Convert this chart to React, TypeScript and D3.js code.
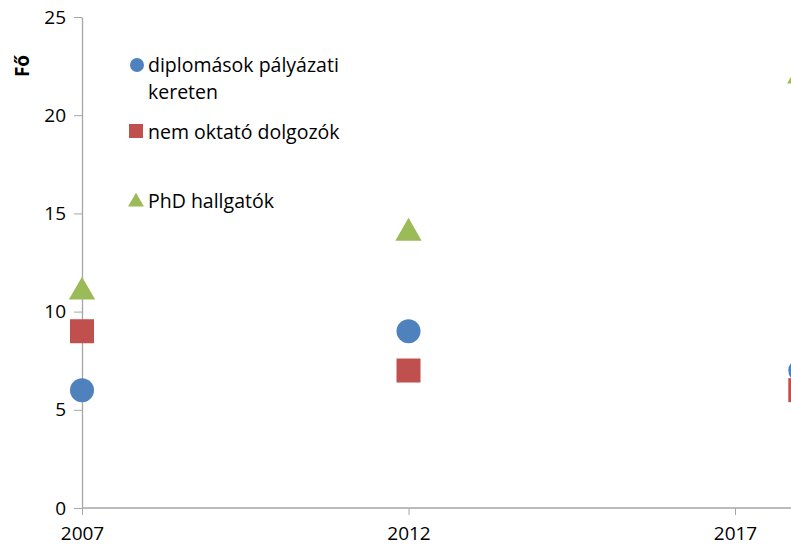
import React, { useEffect, useRef } from "react";
import * as d3 from "d3";

// years and headcounts
const years = [2007, 2012, 2018];
const diplomasok = [6, 9, 7];
const nemOktato = [9, 7, 6];
const phd = [11, 14, 22];
const seriesNames = ["diplomások pályázati kereten", "nem oktató dolgozók", "PhD hallgatók"];
const yTicks = [0, 5, 10, 15, 20, 25];
const xTicks = [2007, 2012, 2017];

const FONT = "'Open Sans', 'Noto Sans', sans-serif";

const App = () => {
  const ref = useRef<SVGSVGElement>(null);

  useEffect(() => {
    const width = 791;
    const height = 550;
    const margin = { top: 17, right: 0, bottom: 42, left: 82 };

    const svg = d3.select(ref.current);
    svg.selectAll("*").remove();

    const x = d3.scaleLinear().domain([2007, 2017]).range([82, 735]);
    const y = d3.scaleLinear().domain([0, 25]).range([height - margin.bottom, margin.top]);

    // y axis
    const yAxis = svg.append("g")
      .attr("transform", `translate(${margin.left},0)`)
      .call(d3.axisLeft(y).tickValues(yTicks).tickSize(8).tickSizeOuter(0).tickPadding(8));
    yAxis.select(".domain").attr("stroke", "#a6a6a6").attr("stroke-width", 1.3);
    yAxis.selectAll(".tick line").attr("stroke", "#a6a6a6");
    yAxis.selectAll("text").attr("font-size", 19).attr("font-family", FONT).attr("fill", "#000");

    // x axis
    const xAxis = svg.append("g")
      .attr("transform", `translate(0,${y(0)})`)
      .call(d3.axisBottom(x).tickValues(xTicks).tickFormat(d3.format("d")).tickSize(7).tickSizeOuter(0).tickPadding(12));
    xAxis.select(".domain").attr("d", `M${margin.left},0H${width}`).attr("stroke", "#a6a6a6").attr("stroke-width", 1.3);
    xAxis.selectAll(".tick line").attr("stroke", "#a6a6a6");
    xAxis.selectAll("text").attr("font-size", 19).attr("font-family", FONT).attr("fill", "#000");

    // y title
    svg.append("text")
      .attr("transform", `translate(29,66) rotate(-90)`)
      .attr("text-anchor", "middle")
      .attr("font-family", FONT)
      .attr("font-weight", "bold")
      .attr("font-size", 19)
      .text("Fő");

    const blue = "#4f81bd";
    const red = "#c0504d";
    const green = "#9bbb59";

    const plot = svg.append("g");

    plot.selectAll(".circ")
      .data(years.map((yr, i) => ({ yr, v: diplomasok[i] })))
      .enter().append("circle")
      .attr("cx", d => x(d.yr))
      .attr("cy", d => y(d.v))
      .attr("r", 12)
      .attr("fill", blue);

    plot.selectAll(".sq")
      .data(years.map((yr, i) => ({ yr, v: nemOktato[i] })))
      .enter().append("rect")
      .attr("x", d => x(d.yr) - 12)
      .attr("y", d => y(d.v) - 12)
      .attr("width", 24)
      .attr("height", 24)
      .attr("fill", red);

    const tri = d3.symbol().type(d3.symbolTriangle).size(300);
    plot.selectAll(".tri")
      .data(years.map((yr, i) => ({ yr, v: phd[i] })))
      .enter().append("path")
      .attr("d", tri)
      .attr("transform", d => `translate(${x(d.yr)},${y(d.v)})`)
      .attr("fill", green);

    // legend
    const lg = svg.append("g").attr("font-family", FONT).attr("font-size", 19.5).attr("fill", "#000");
    lg.append("circle").attr("cx", 137).attr("cy", 65).attr("r", 7).attr("fill", blue);
    lg.append("text").attr("x", 148).attr("y", 72).text("diplomások pályázati");
    lg.append("text").attr("x", 148).attr("y", 99).text("kereten");
    lg.append("rect").attr("x", 129).attr("y", 124).attr("width", 14).attr("height", 14).attr("fill", red);
    lg.append("text").attr("x", 148).attr("y", 139).text(seriesNames[1]);
    lg.append("path").attr("d", d3.symbol().type(d3.symbolTriangle).size(110)).attr("transform", "translate(136,202)").attr("fill", green);
    lg.append("text").attr("x", 148).attr("y", 208).text(seriesNames[2]);
  }, []);

  return (
    <svg ref={ref} width={791} height={550}
      style={{ position: "absolute", left: 0, top: 0, background: "#fff" }} />
  );
};

export default App;
